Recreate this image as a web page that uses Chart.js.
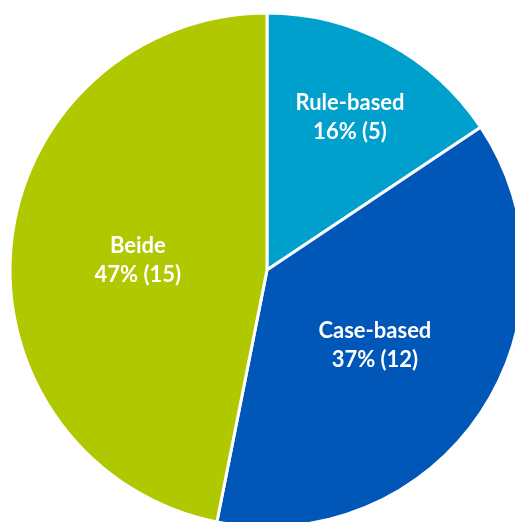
<!DOCTYPE html>
<html>
<head>
<meta charset="utf-8">
<script src="https://cdn.jsdelivr.net/npm/chart.js@4/dist/chart.umd.min.js"></script>
<style>
html,body{margin:0;padding:0;background:#fff;overflow:hidden;width:515px;height:522px;}
#wrap{position:absolute;left:0;top:0;width:534px;height:540px;}
</style>
</head>
<body>
<div id="wrap"><canvas id="c" width="534" height="540"></canvas></div>
<script>
const categories = ["Rule-based", "Case-based", "Beide"];
const counts = [5, 12, 15];
const percentLabels = ["16%", "37%", "47%"];
const colors = ["#00A0CC", "#0057B8", "#AFC800"];

const labelPlugin = {
  id: 'sliceLabels',
  afterDatasetsDraw(chart, args, opts) {
    const ctx = chart.ctx;
    const meta = chart.getDatasetMeta(0);
    ctx.save();
    ctx.fillStyle = '#ffffff';
    ctx.font = 'bold 22px Lato';
    ctx.textAlign = 'center';
    ctx.textBaseline = 'middle';
    meta.data.forEach((arc, i) => {
      const p = arc.getProps(['x','y','startAngle','endAngle','outerRadius'], true);
      const mid = (p.startAngle + p.endAngle) / 2;
      const f = opts.fractions[i];
      const cx = p.x + Math.cos(mid) * p.outerRadius * f;
      const cy = p.y + Math.sin(mid) * p.outerRadius * f + 3;
      ctx.fillText(categories[i], cx, cy - 14.5);
      ctx.fillText(percentLabels[i] + ' (' + counts[i] + ')', cx, cy + 14.5);
    });
    ctx.restore();
  }
};

new Chart(document.getElementById('c'), {
  type: 'pie',
  data: {
    labels: categories,
    datasets: [{
      data: counts,
      backgroundColor: colors,
      borderColor: '#ffffff',
      borderWidth: 3
    }]
  },
  options: {
    responsive: false,
    animation: false,
    radius: 257,
    layout: { padding: 0 },
    plugins: {
      legend: { display: false },
      tooltip: { enabled: false },
      sliceLabels: { fractions: [0.685, 0.505, 0.505] }
    }
  },
  plugins: [labelPlugin]
});
</script>
</body>
</html>
